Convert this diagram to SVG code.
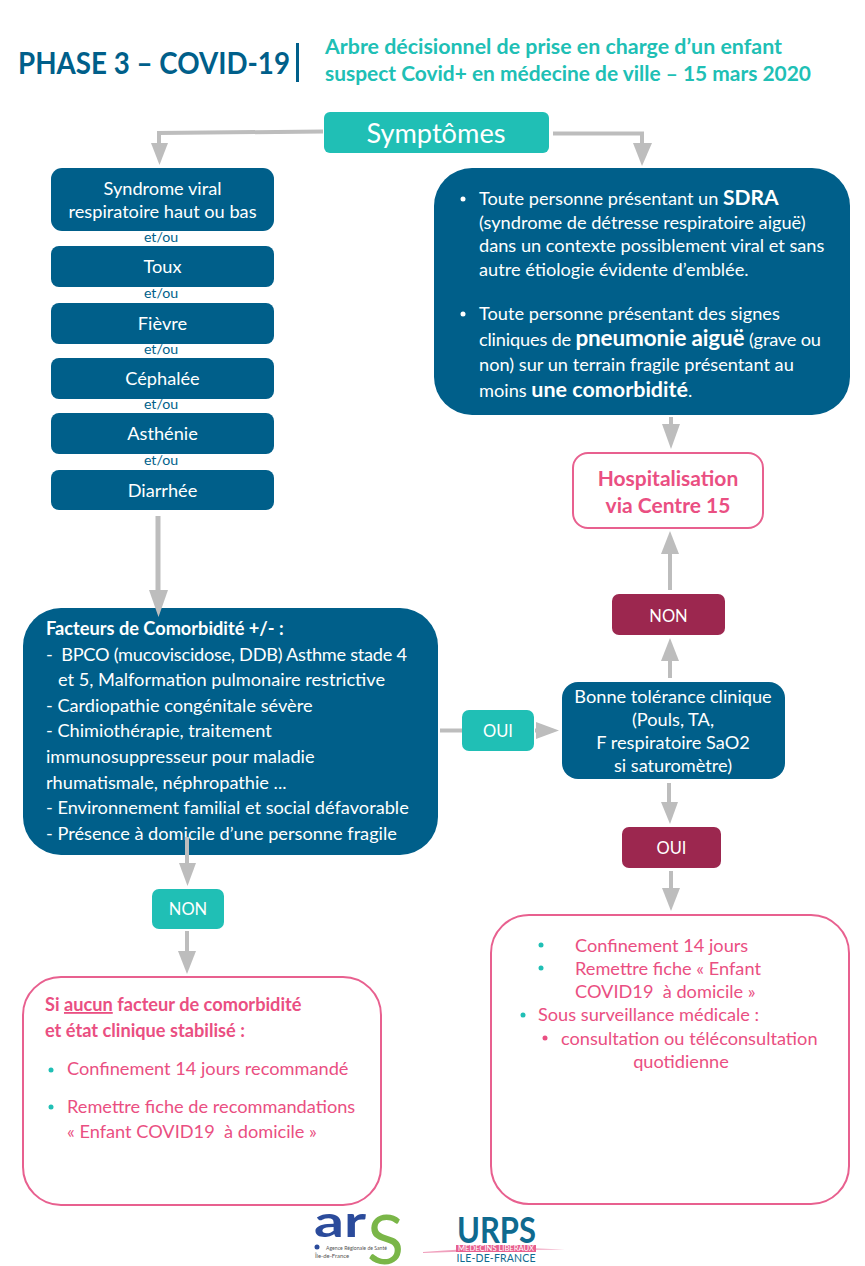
<svg xmlns="http://www.w3.org/2000/svg" width="865" height="1266" viewBox="0 0 865 1266">
<style>
text{font-family:Lato,"Open Sans",sans-serif;white-space:pre}
.b{fill:#005f8a}.t{fill:#20bfb5}.m{fill:#9c274f}
.w{fill:#fff;font-size:18.2px}.l{fill:#fff;font-size:16.5px}.c{text-anchor:middle}
.e{fill:#005f8a;font-size:14.2px;text-anchor:middle}
.p{fill:#ea4f82;font-size:18.2px}
.pb{fill:#fff;stroke:#e8608f;stroke-width:2}
.bold{font-weight:700}
.cn{fill:none;stroke:#bdbdbd;stroke-width:4}
.ah{fill:#bdbdbd}
.d{fill:#20bfb5}.dp{fill:#ea4f82}
</style>
<rect width="865" height="1266" fill="#fff"/>
<g id="title">
<text x="18" y="74" font-size="30" font-weight="700" fill="#005f8a" textLength="272" lengthAdjust="spacingAndGlyphs">PHASE 3 – COVID-19</text>
<rect x="296" y="43" width="3" height="39" fill="#005f8a"/>
<text x="325" y="54" font-size="21" font-weight="700" fill="#20bfb5" textLength="457" lengthAdjust="spacingAndGlyphs">Arbre décisionnel de prise en charge d’un enfant</text>
<text x="325" y="81" font-size="21" font-weight="700" fill="#20bfb5" textLength="486" lengthAdjust="spacingAndGlyphs">suspect Covid+ en médecine de ville – 15 mars 2020</text>
</g>
<g id="symptomes"><rect class="t" x="324" y="112" width="225" height="41" rx="6"/><text x="436" y="143" font-size="27.200" fill="#fff" class="c">Symptômes</text></g>
<g id="syndrome"><rect class="b" x="51" y="168" width="223" height="63" rx="11"/><text class="w c" x="162.500" y="195">Syndrome viral</text><text class="w c" x="162.500" y="218">respiratoire haut ou bas</text></g>
<text class="e" x="161" y="242">et/ou</text>
<g id="toux"><rect class="b" x="51" y="246" width="223" height="41" rx="8"/><text class="w c" x="162.500" y="273">Toux</text></g>
<text class="e" x="161" y="298">et/ou</text>
<g id="fievre"><rect class="b" x="51" y="303" width="223" height="41" rx="8"/><text class="w c" x="162.500" y="330">Fièvre</text></g>
<text class="e" x="161" y="354">et/ou</text>
<g id="cephalee"><rect class="b" x="51" y="358" width="223" height="41" rx="8"/><text class="w c" x="162.500" y="385">Céphalée</text></g>
<text class="e" x="161" y="409">et/ou</text>
<g id="asthenie"><rect class="b" x="51" y="413" width="223" height="41" rx="8"/><text class="w c" x="162.500" y="440">Asthénie</text></g>
<text class="e" x="161" y="465">et/ou</text>
<g id="diarrhee"><rect class="b" x="51" y="470" width="223" height="40" rx="8"/><text class="w c" x="162.500" y="497">Diarrhée</text></g>
<g id="sdra"><rect class="b" x="434" y="168" width="416" height="247" rx="38"/>
<circle cx="463" cy="199" r="2.500" fill="#fff"/>
<text class="w" x="479" y="205">Toute personne présentant un <tspan class="bold" font-size="21">SDRA</tspan></text>
<text class="w" x="479" y="229">(syndrome de détresse respiratoire aiguë)</text>
<text class="w" x="479" y="252">dans un contexte possiblement viral et sans</text>
<text class="w" x="479" y="276">autre étiologie évidente d’emblée.</text>
<circle cx="463" cy="314" r="2.500" fill="#fff"/>
<text class="w" x="479" y="320">Toute personne présentant des signes</text>
<text class="w" x="479" y="346" textLength="342">cliniques de <tspan class="bold" font-size="22.500">pneumonie aiguë</tspan> (grave ou</text>
<text class="w" x="479" y="371">non) sur un terrain fragile présentant au</text>
<text class="w" x="479" y="397">moins <tspan class="bold" font-size="21.500">une comorbidité</tspan>.</text></g>
<g id="hospitalisation"><rect class="pb" x="573" y="453" width="190" height="75" rx="15"/>
<text x="668" y="486" font-size="21" font-weight="700" fill="#ea4f82" class="c">Hospitalisation</text><text x="668" y="513" font-size="21" font-weight="700" fill="#ea4f82" class="c">via Centre 15</text></g>
<g id="non-m"><rect class="m" x="612" y="594" width="113" height="41" rx="7"/><text class="l c" x="668.500" y="622">NON</text></g>
<g id="tolerance"><rect class="b" x="562" y="682" width="223" height="97" rx="16"/>
<text class="w c" x="673" y="703">Bonne tolérance clinique</text><text class="w c" x="673" y="726">(Pouls, TA,</text><text class="w c" x="673" y="749">F respiratoire SaO2</text><text class="w c" x="673" y="772">si saturomètre)</text></g>
<g id="oui-t"><rect class="t" x="462" y="710" width="72" height="41" rx="7"/><text class="l c" x="498" y="737">OUI</text></g>
<g id="oui-m"><rect class="m" x="622" y="827" width="99" height="41" rx="7"/><text class="l c" x="671.500" y="854">OUI</text></g>
<g id="facteurs"><rect class="b" x="23" y="608" width="415" height="247" rx="38"/>
<text class="w bold" x="46" y="635">Facteurs de Comorbidité +/- :</text>
<text class="w" x="46" y="661" textLength="361">-  BPCO (mucoviscidose, DDB) Asthme stade 4</text>
<text class="w" x="58" y="686">et 5, Malformation pulmonaire restrictive</text>
<text class="w" x="46" y="712">- Cardiopathie congénitale sévère</text>
<text class="w" x="46" y="737">- Chimiothérapie, traitement</text>
<text class="w" x="46" y="763">immunosuppresseur pour maladie</text>
<text class="w" x="46" y="789">rhumatismale, néphropathie ...</text>
<text class="w" x="46" y="814">- Environnement familial et social défavorable</text>
<text class="w" x="46" y="840">- Présence à domicile d’une personne fragile</text></g>
<g id="non-t"><rect class="t" x="152" y="889" width="72" height="40" rx="7"/><text class="l c" x="188" y="915">NON</text></g>
<g id="aucun"><rect class="pb" x="23" y="977" width="358" height="228" rx="38"/>
<text class="p bold" x="45" y="1011">Si <tspan text-decoration="underline">aucun</tspan> facteur de comorbidité</text>
<text class="p bold" x="45" y="1037">et état clinique stabilisé :</text>
<circle class="d" cx="51" cy="1070" r="2.500"/>
<text class="p" x="67" y="1075">Confinement 14 jours recommandé</text>
<circle class="d" cx="51" cy="1107" r="2.500"/>
<text class="p" x="67" y="1113">Remettre fiche de recommandations</text>
<text class="p" x="67" y="1138">« Enfant COVID19  à domicile »</text></g>
<g id="confinement"><rect class="pb" x="491" y="915" width="358" height="289" rx="38"/>
<circle class="d" cx="541" cy="945" r="2.500"/><text class="p" x="575" y="952">Confinement 14 jours</text>
<circle class="d" cx="541" cy="968" r="2.500"/><text class="p" x="575" y="975">Remettre fiche « Enfant</text>
<text class="p" x="575" y="998">COVID19  à domicile »</text>
<circle class="d" cx="523" cy="1015" r="2.500"/><text class="p" x="538" y="1021">Sous surveillance médicale :</text>
<circle class="dp" cx="545" cy="1038" r="2.500"/><text class="p" x="561" y="1045">consultation ou téléconsultation</text>
<text class="p c" x="681" y="1068">quotidienne</text></g>
<g id="connectors">
<path class="cn" d="M323 131.500L159 133V146"/><polygon class="ah" points="151,143 168,143 159.500,165"/>
<path class="cn" d="M553 133.500H642V146"/><polygon class="ah" points="633,143 652,143 642,166"/>
<path class="cn" style="stroke-width:5" d="M158 516V595"/><polygon class="ah" points="149,590 168,590 158.500,617"/>
<path class="cn" d="M671 417V430"/><polygon class="ah" points="662,424 680,424 671,449"/>
<path class="cn" d="M670 590V548"/><polygon class="ah" points="661,554 679,554 670,531"/>
<path class="cn" d="M670 678V655"/><polygon class="ah" points="661,661 679,661 670,638"/>
<path class="cn" d="M440 730.500H462"/>
<path class="cn" d="M535 730.500H540"/><polygon class="ah" points="536,722 536,739 559,730.500"/>
<path class="cn" d="M669 783V815"/><polygon class="ah" points="661,802 678,802 670,824"/>
<path class="cn" d="M671 871V900"/><polygon class="ah" points="662,888 680,888 671,911"/>
<path class="cn" d="M187 837V870"/><polygon class="ah" points="179,863 196,863 187.500,886"/>
<path class="cn" d="M187 931V955"/><polygon class="ah" points="178,951 196,951 187,974"/>
</g>
<g id="logos">
<text x="314" y="1237" font-size="44" font-weight="700" fill="#2b4b9b" textLength="52" lengthAdjust="spacingAndGlyphs">ar</text>
<text x="367" y="1264" font-size="68" fill="#7ab648" textLength="37" lengthAdjust="spacingAndGlyphs">S</text>
<circle cx="317" cy="1247" r="2.500" fill="#2b4b9b"/>
<text x="326" y="1249.500" font-size="6.500" fill="#555" textLength="61" lengthAdjust="spacingAndGlyphs">Agence Régionale de Santé</text>
<text x="315" y="1258" font-size="6.500" fill="#555" textLength="34" lengthAdjust="spacingAndGlyphs">Île-de-France</text>
<path d="M423 1252Q490 1246 565 1249.500Q490 1250 423 1253Z" fill="#f0a0bd"/>
<text x="457" y="1243" font-size="36" font-weight="700" fill="#0f6a8f" textLength="79" lengthAdjust="spacingAndGlyphs">URPS</text>
<rect x="456" y="1245" width="80" height="7" fill="#e8608f"/>
<text x="496" y="1251.300" font-size="7" fill="#fff" class="c" textLength="76" lengthAdjust="spacingAndGlyphs">MÉDECINS LIBÉRAUX</text>
<text x="496" y="1262" font-size="10.500" fill="#0f6a8f" class="c" textLength="79" lengthAdjust="spacing">ILE-DE-FRANCE</text>
</g>
</svg>
